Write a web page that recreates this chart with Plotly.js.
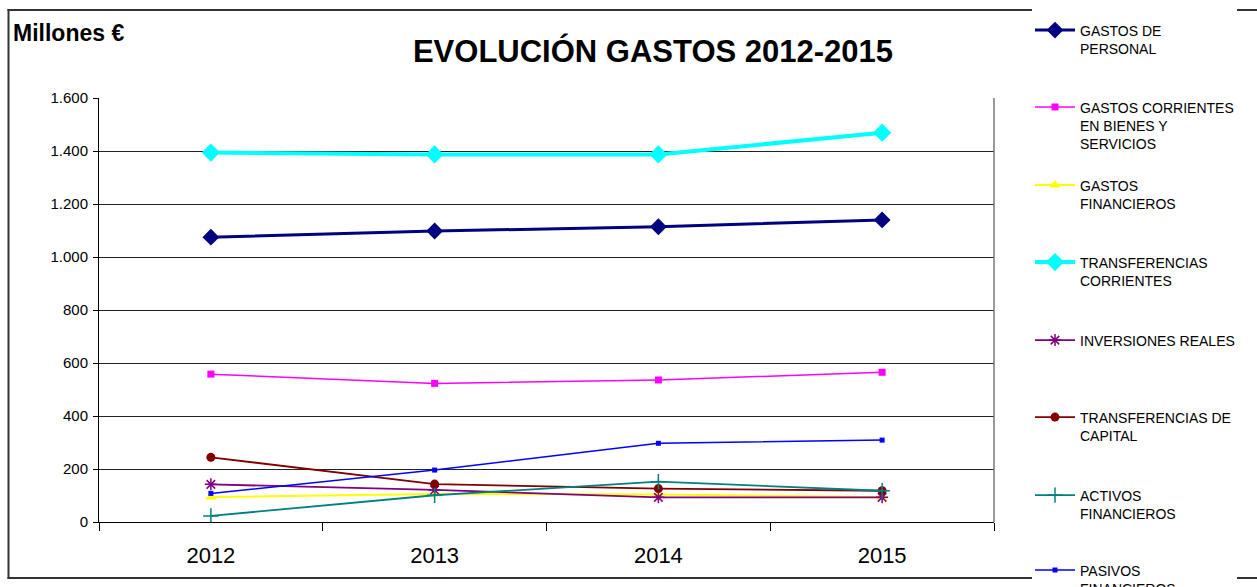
<!DOCTYPE html>
<html>
<head>
<meta charset="utf-8">
<script src="https://cdn.plot.ly/plotly-3.0.1.min.js"></script>
<style>
html,body{margin:0;padding:0;background:#fff;}
#chart{width:1257px;height:587px;}
</style>
</head>
<body>
<div id="chart"></div>
<script>
const years = ['2012', '2013', '2014', '2015'];
const gastosPersonal = [1075, 1098, 1114, 1140];
const gastosCorrientes = [558, 523, 536, 565];
const gastosFinancieros = [94, 106, 104, 93];
const transfCorrientes = [1394, 1387, 1387, 1469];
const inversionesReales = [142, 121, 93, 93];
const transfCapital = [244, 143, 126, 118];
const activosFinancieros = [23, 101, 152, 118];
const pasivosFinancieros = [108, 196, 297, 309];
const seriesNames = [
  'GASTOS DE<br>PERSONAL',
  'GASTOS CORRIENTES<br>EN BIENES Y<br>SERVICIOS',
  'GASTOS<br>FINANCIEROS',
  'TRANSFERENCIAS<br>CORRIENTES',
  'INVERSIONES REALES',
  'TRANSFERENCIAS DE<br>CAPITAL',
  'ACTIVOS<br>FINANCIEROS',
  'PASIVOS<br>FINANCIEROS'
];
const yTickVals = [0, 200, 400, 600, 800, 1000, 1200, 1400, 1600];

const W = 1257, H = 587;
const PL = 99, PR = 994, PT = 98, PB = 522;
const FONT = 'Liberation Sans, Arial, sans-serif';

const values = [gastosPersonal, gastosCorrientes, gastosFinancieros, transfCorrientes,
                inversionesReales, transfCapital, activosFinancieros, pasivosFinancieros];
const styles = [
  {color: '#000080', width: 3, symbol: 'diamond', size: 13},
  {color: '#FF00FF', width: 1.5, symbol: 'square', size: 7},
  {color: '#FFFF00', width: 2, symbol: 'triangle-up', size: 10},
  {color: '#00FFFF', width: 4, symbol: 'diamond', size: 14},
  {color: '#800080', width: 1.8, symbol: 'asterisk-open', size: 10, mline: 1.5},
  {color: '#800000', width: 1.8, symbol: 'circle', size: 9},
  {color: '#008080', width: 1.8, symbol: 'cross-thin-open', size: 11, mline: 1.5},
  {color: '#0000FF', width: 1.5, symbol: 'square', size: 5}
];
// symbol centre (px from top) of each legend entry
const legendSymY = [27, 104, 182, 259, 337, 414, 492, 567];

const traces = values.map((v, i) => {
  const s = styles[i];
  const marker = {color: s.color, symbol: s.symbol, size: s.size};
  if (s.mline) marker.line = {color: s.color, width: s.mline};
  return {
    type: 'scatter', mode: 'lines+markers',
    x: years, y: v, name: seriesNames[i],
    line: {color: s.color, width: s.width},
    marker: marker,
    legend: 'legend' + (i + 2),
    hoverinfo: 'skip'
  };
});

const layout = {
  width: W, height: H,
  paper_bgcolor: '#fff', plot_bgcolor: '#fff',
  margin: {l: PL, r: W - PR, t: PT, b: H - PB, autoexpand: false},
  separators: ',.',
  showlegend: true,
  font: {family: FONT, color: '#000'},
  title: {
    text: '<b>EVOLUCIÓN GASTOS 2012-2015</b>',
    font: {family: FONT, size: 31, color: '#000'},
    xref: 'container', yref: 'container',
    x: 653 / W, xanchor: 'center', y: 1 - 51 / H, yanchor: 'middle'
  },
  xaxis: {
    type: 'category', range: [-0.5, 3.5],
    showgrid: false, zeroline: false,
    showline: true, linecolor: '#000', linewidth: 1,
    ticks: 'outside', tickson: 'boundaries', ticklen: 8, tickcolor: '#000',
    tickfont: {family: FONT, size: 22, color: '#000'},
    ticklabelstandoff: 14
  },
  yaxis: {
    range: [0, 1600], tickvals: yTickVals, tickformat: ',d',
    showgrid: true, gridcolor: '#222', gridwidth: 1,
    zeroline: false,
    showline: true, linecolor: '#000', linewidth: 1,
    ticks: 'outside', ticklen: 5, tickcolor: '#000',
    tickfont: {family: FONT, size: 15, color: '#000'},
    ticklabelstandoff: 2
  },
  annotations: [{
    text: '<b>Millones €</b>', showarrow: false,
    xref: 'paper', yref: 'paper',
    x: (11 - PL) / (PR - PL), xanchor: 'left',
    y: (PB - 33) / (PB - PT), yanchor: 'middle',
    font: {family: FONT, size: 23, color: '#000'}
  }],
  shapes: []
};

legendSymY.forEach((sy, i) => {
  layout['legend' + (i + 2)] = {
    xref: 'container', yref: 'container',
    x: 1030 / W, xanchor: 'left',
    y: 1 - (sy - 12.5) / H, yanchor: 'top',
    bgcolor: 'rgba(255,255,255,0)', borderwidth: 0,
    valign: 'top', itemwidth: 40,
    font: {family: FONT, size: 14, color: '#000'},
    itemclick: false, itemdoubleclick: false
  };
});

// plot-area right edge and the outer chart frame (interrupted behind the legend)
const px = v => (v - PL) / (PR - PL);
const py = v => (PB - v) / (PB - PT);
const frame = (x0, x1, y0, y1) => ({
  type: 'rect', xref: 'paper', yref: 'paper',
  x0: px(x0), x1: px(x1), y0: py(y1), y1: py(y0),
  line: {width: 0}, fillcolor: '#333'
});
layout.shapes.push(
  {type: 'line', xref: 'paper', yref: 'paper', x0: 1, x1: 1, y0: 0, y1: 1, line: {color: '#777', width: 1.5}},
  frame(7.5, 9.5, 9, 579),
  frame(7.5, 1032, 9, 11),
  frame(1237, 1257, 9, 11),
  frame(7.5, 1032, 577, 579),
  frame(1237, 1257, 577, 579)
);

Plotly.newPlot('chart', traces, layout, {staticPlot: true, displayModeBar: false});
</script>
</body>
</html>
